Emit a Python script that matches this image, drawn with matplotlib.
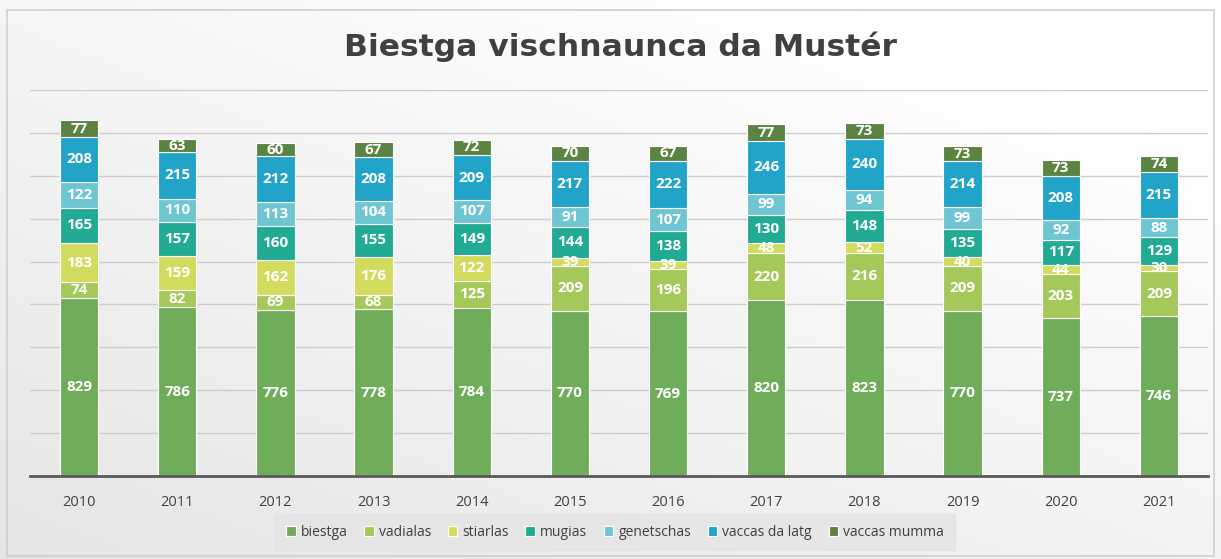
import numpy as np
import matplotlib
matplotlib.use("Agg")
import matplotlib.pyplot as plt
from matplotlib.patches import Rectangle

years = ["2010", "2011", "2012", "2013", "2014", "2015", "2016", "2017", "2018", "2019", "2020", "2021"]
series_names = ["biestga", "vadialas", "stiarlas", "mugias", "genetschas", "vaccas da latg", "vaccas mumma"]
biestga = [829, 786, 776, 778, 784, 770, 769, 820, 823, 770, 737, 746]
vadialas = [74, 82, 69, 68, 125, 209, 196, 220, 216, 209, 203, 209]
stiarlas = [183, 159, 162, 176, 122, 39, 39, 48, 52, 40, 44, 30]
mugias = [165, 157, 160, 155, 149, 144, 138, 130, 148, 135, 117, 129]
genetschas = [122, 110, 113, 104, 107, 91, 107, 99, 94, 99, 92, 88]
vaccas_da_latg = [208, 215, 212, 208, 209, 217, 222, 246, 240, 214, 208, 215]
vaccas_mumma = [77, 63, 60, 67, 72, 70, 67, 77, 73, 73, 73, 74]
colors = ["#70AD5A", "#A5C85A", "#D3DB5F", "#21AB94", "#6FC6D3", "#21A4C8", "#5B8443"]

data = [biestga, vadialas, stiarlas, mugias, genetschas, vaccas_da_latg, vaccas_mumma]

fig = plt.figure(figsize=(12.21, 5.59), dpi=100)

# background gradient
bg = fig.add_axes([0, 0, 1, 1], zorder=-10)
xx, yy = np.meshgrid(np.linspace(0, 1, 200), np.linspace(0, 1, 200))
g = 0.90 + 0.10 * np.clip((xx * 0.6 + (1 - yy) * 0.7) / 1.1, 0, 1)
bg.imshow(np.dstack([g, g, g]), extent=[0, 1, 0, 1], aspect="auto", origin="upper")
bg.add_patch(Rectangle((7 / 1221, 3 / 559), 1207 / 1221, 546 / 559, fill=False,
                       edgecolor="#cfcfcf", lw=1.2, transform=bg.transAxes))
bg.set_xlim(0, 1); bg.set_ylim(0, 1)
bg.axis("off")

ax = fig.add_axes([30 / 1221, 1 - 476 / 559, 1178 / 1221, 386 / 559])
ax.set_facecolor("none")
x = np.arange(len(years))
bottom = np.zeros(len(years))
handles = []
for name, vals, c in zip(series_names, data, colors):
    vals = np.array(vals, dtype=float)
    b = ax.bar(x, vals, 0.39, bottom=bottom, color=c, edgecolor="white", linewidth=0.8,
               label=name, zorder=3)
    handles.append(b)
    for xi, v, bt in zip(x, vals, bottom):
        ax.text(xi, bt + v / 2, f"{int(v)}", ha="center", va="center", color="white",
                fontsize=11, fontweight="bold", family=["Open Sans", "DejaVu Sans"], zorder=4)
    bottom += vals

ax.set_xlim(-0.5, len(years) - 0.5)
ax.set_ylim(0, 1800)
ax.set_yticks(np.arange(0, 1801, 200))
ax.yaxis.grid(True, color="#cdcdcd", lw=1, zorder=0)
ax.tick_params(axis="y", left=False, labelleft=False)
ax.tick_params(axis="x", bottom=False, pad=10, labelsize=10.5, labelcolor="#404040")
ax.set_xticks(x)
ax.set_xticklabels(years, family=["Open Sans", "DejaVu Sans"])
for s in ["top", "right", "left"]:
    ax.spines[s].set_visible(False)
ax.spines["bottom"].set_color("#595959")
ax.spines["bottom"].set_linewidth(2)
ax.spines["bottom"].set_zorder(5)

fig.text(620 / 1221, 1 - 47 / 559, "Biestga vischnaunca da Mustér", ha="center", va="center",
         fontsize=22.6, fontweight="bold", color="#404040")

leg = fig.legend(handles=handles, labels=series_names, loc="center",
                 bbox_to_anchor=(615 / 1221, 1 - 532 / 559), ncol=7, frameon=True,
                 fancybox=False, handlelength=0.7, handleheight=0.7, handletextpad=0.35,
                 columnspacing=1.2, prop={"family": ["Open Sans", "DejaVu Sans"], "size": 10},
                 borderpad=0.75)
leg.get_frame().set_facecolor("#e4e4e4")
leg.get_frame().set_edgecolor("#e4e4e4")
for t in leg.get_texts():
    t.set_color("#404040")

fig.savefig("out.png", dpi=100)
